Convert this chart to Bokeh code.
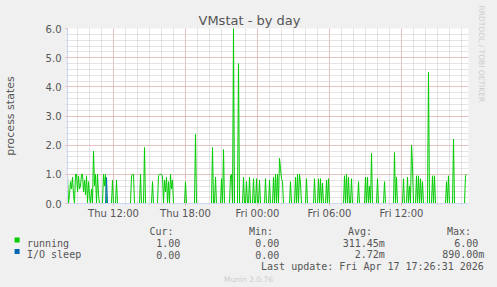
import math
import pandas as pd
from bokeh.plotting import figure
from bokeh.layouts import column
from bokeh.models import (FixedTicker, DatetimeTickFormatter, Range1d, Title,
                          NumeralTickFormatter, ColumnDataSource)
from bokeh.core.properties import value
from bokeh.embed import file_html
from bokeh.resources import INLINE

# ---------------- data ----------------
DAYS = {"Thu": "2026-04-16", "Fri": "2026-04-17"}

series_start = "Thu 08:10"
series_end = "Fri 17:25"
view_end = "Fri 17:35"

running_times = [
    "Thu 08:10", "Thu 08:20", "Thu 08:25", "Thu 08:30", "Thu 08:35", "Thu 08:40",
    "Thu 08:50", "Thu 08:55", "Thu 09:00", "Thu 09:05", "Thu 09:10", "Thu 09:15",
    "Thu 09:20", "Thu 09:25", "Thu 09:30", "Thu 09:35", "Thu 09:40", "Thu 09:45",
    "Thu 09:55", "Thu 10:00", "Thu 10:10", "Thu 10:20", "Thu 10:25", "Thu 10:30",
    "Thu 10:40", "Thu 10:45", "Thu 11:10", "Thu 11:15", "Thu 11:20", "Thu 11:55",
    "Thu 12:15", "Thu 13:30", "Thu 13:35", "Thu 13:40", "Thu 14:15", "Thu 14:35",
    "Thu 15:15", "Thu 15:45", "Thu 15:50", "Thu 15:55", "Thu 16:00", "Thu 16:05",
    "Thu 16:15", "Thu 16:20", "Thu 16:25", "Thu 16:35", "Thu 16:45", "Thu 16:50",
    "Thu 16:55", "Thu 18:00", "Thu 18:50", "Thu 20:15", "Thu 20:30", "Thu 21:00",
    "Thu 21:10", "Thu 21:45", "Thu 21:50", "Thu 22:00", "Thu 22:25", "Thu 22:50",
    "Thu 23:05", "Thu 23:20", "Thu 23:40", "Thu 23:55", "Fri 00:10", "Fri 00:40",
    "Fri 01:00", "Fri 01:20", "Fri 01:30", "Fri 01:40", "Fri 01:50", "Fri 01:55",
    "Fri 02:00", "Fri 02:05", "Fri 02:45", "Fri 03:10", "Fri 03:20", "Fri 03:30",
    "Fri 03:35", "Fri 04:05", "Fri 04:45", "Fri 05:05", "Fri 05:15", "Fri 05:25",
    "Fri 05:45", "Fri 05:55", "Fri 07:15", "Fri 07:25", "Fri 07:35", "Fri 07:50",
    "Fri 08:25", "Fri 09:00", "Fri 09:10", "Fri 09:20", "Fri 09:30", "Fri 10:00",
    "Fri 10:35", "Fri 11:25", "Fri 11:35", "Fri 12:10", "Fri 12:30", "Fri 12:40",
    "Fri 12:50", "Fri 12:55", "Fri 13:15", "Fri 13:25", "Fri 13:35", "Fri 13:45",
    "Fri 14:15", "Fri 14:35", "Fri 14:45", "Fri 15:45", "Fri 15:55", "Fri 16:20",
    "Fri 17:20", "Fri 17:25",
]
running_values = [
    1.0, 0.3, 0.75, 0.5, 0.9, 0.3,
    1.0, 1.0, 0.4, 0.95, 0.5, 0.6,
    1.0, 1.0, 0.4, 0.8, 0.3, 0.95,
    0.75, 0.3, 0.5, 1.8, 0.6, 1.0,
    1.0, 0.3, 1.0, 0.6, 1.0, 0.8,
    0.8, 0.95, 1.0, 1.0, 1.0, 1.92,
    0.75, 0.95, 1.0, 1.0, 1.0, 0.95,
    0.8, 0.4, 0.9, 0.75, 1.0, 0.5,
    0.8, 0.75, 2.38, 1.92, 0.9, 0.85,
    1.85, 0.95, 1.0, 6.0, 4.8, 0.9,
    0.75, 0.9, 0.85, 0.85, 0.8, 0.85,
    0.8, 0.9, 1.0, 1.0, 1.55, 1.2,
    0.85, 0.75, 0.75, 0.9, 1.0, 1.0,
    0.7, 0.85, 0.85, 0.85, 0.85, 0.7,
    0.8, 0.85, 0.95, 1.0, 0.9, 0.85,
    0.75, 0.9, 0.9, 0.6, 1.72, 0.85,
    0.75, 1.75, 0.9, 0.85, 0.9, 0.6,
    2.0, 1.3, 0.95, 0.95, 0.85, 0.75,
    4.5, 0.95, 0.95, 0.75, 0.95, 2.2,
    0.95, 1.0,
]
io_sleep_times = ["Thu 11:25"]
io_sleep_values = [0.89]

y_ticks = [0, 1, 2, 3, 4, 5, 6]
x_tick_times = ["Thu 12:00", "Thu 18:00", "Fri 00:00", "Fri 06:00", "Fri 12:00"]

legend_names = ["running", "I/O sleep"]
legend_colors = ["#00cc00", "#0066b3"]
legend_headers = ["Cur:", "Min:", "Avg:", "Max:"]
legend_cur = ["1.00", "0.00"]
legend_min = ["0.00", "0.00"]
legend_avg = ["311.45m", "2.72m"]
legend_max = ["6.00", "890.00m"]
last_update = "Last update: Fri Apr 17 17:26:31 2026"
footer = "Munin 2.0.76"
watermark = "RRDTOOL / TOBI OETIKER"
title_text = "VMstat - by day"


def ts(s):
    d, hm = s.split()
    return pd.Timestamp(f"{DAYS[d]} {hm}")


grid = pd.date_range(ts(series_start), ts(series_end), freq="5min")
run = pd.Series(0.0, index=grid)
for t, v in zip(running_times, running_values):
    run[ts(t)] = v
blk = pd.Series(0.0, index=grid)
for t, v in zip(io_sleep_times, io_sleep_values):
    blk[ts(t)] = v

src = ColumnDataSource(dict(t=grid, running=run.values, blocked=blk.values))

# ---------------- styling constants ----------------
W = 497
TOP_H = 223
LEG_H = 287 - TOP_H
FONT = "DejaVu Sans"
MONO = "DejaVu Sans Mono"
TXT = "#555555"
BG = "#f0f0f0"

# ---------------- main chart ----------------
p = figure(width=W, height=TOP_H, output_backend="svg", toolbar_location=None,
           x_axis_type="datetime",
           x_range=Range1d(ts(series_start), ts(view_end)),
           y_range=Range1d(0, 6),
           min_border_left=67, min_border_right=29,
           min_border_top=28, min_border_bottom=TOP_H - 203)
p.frame_align = False
p.background_fill_color = "#ffffff"
p.border_fill_color = BG
p.outline_line_color = None

p.title.text = title_text
p.title.align = "left"
p.title.offset = 131
p.title.standoff = 1
p.title.text_font = FONT
p.title.text_font_size = "13px"
p.title.text_font_style = "normal"
p.title.text_color = TXT

p.add_layout(Title(text=watermark, align="left", offset=-23, standoff=17,
                   text_font=FONT, text_font_size="7.5px", text_font_style="normal",
                   text_color="#cccccc"), "right")

p.line("t", "running", source=src, line_color="#00cc00", line_width=1)
p.line("t", "blocked", source=src, line_color="#0066b3", line_width=1)

to_ms = lambda s: ts(s).value / 1e6
minor_x = [t.value / 1e6 for t in pd.date_range(ts("Thu 09:00"), ts("Fri 17:00"), freq="1h")]
p.xaxis.ticker = FixedTicker(ticks=[to_ms(s) for s in x_tick_times], minor_ticks=minor_x)
fmt = "%a %H:%M"
p.xaxis.formatter = DatetimeTickFormatter(hours=fmt, hourmin=fmt, days=fmt, minutes=fmt,
                                          minsec=fmt, months=fmt, years=fmt)
p.yaxis.ticker = FixedTicker(ticks=y_ticks, minor_ticks=[i / 5 for i in range(31)])
p.yaxis.formatter = NumeralTickFormatter(format="0.0")

for ax in (p.xaxis[0], p.yaxis[0]):
    ax.axis_line_color = "#cfd6f8"
    ax.major_tick_line_color = "#f0a0a0"
    ax.major_tick_out = 2
    ax.major_tick_in = 0
    ax.minor_tick_line_color = "#cccccc"
    ax.minor_tick_out = 1
    ax.minor_tick_in = 0
    ax.major_label_text_font = FONT
    ax.major_label_text_font_size = "10px"
    ax.major_label_text_color = TXT
p.xaxis.major_label_standoff = 2
p.yaxis.major_label_standoff = 4
p.yaxis.axis_label = "process states"
p.yaxis.axis_label_text_font = FONT
p.yaxis.axis_label_text_font_size = "11px"
p.yaxis.axis_label_text_font_style = "normal"
p.yaxis.axis_label_text_color = TXT
p.yaxis.axis_label_standoff = 26

for g in (p.xgrid[0], p.ygrid[0]):
    g.grid_line_color = "#eaa0a0"
    g.grid_line_dash = "1 1"
    g.minor_grid_line_color = "#c8c8c8"
    g.minor_grid_line_dash = "1 1"

# ---------------- legend strip (canvas pixel coordinates) ----------------
lg = figure(width=W, height=LEG_H, output_backend="svg", toolbar_location=None,
            x_range=Range1d(0, W), y_range=Range1d(287, TOP_H),
            min_border=0, x_axis_location=None, y_axis_location=None)
lg.frame_align = False
lg.background_fill_color = BG
lg.border_fill_color = BG
lg.outline_line_color = None
lg.xgrid.visible = False
lg.ygrid.visible = False

mono = dict(text_font=value(MONO), text_font_size="10px", text_color=TXT,
            text_baseline="alphabetic")

lg.text(x=[149, 248.5, 347.5, 446.5], y=[231.3] * 4, text=legend_headers,
        text_align="left", **mono)
row_base = [242.8, 254.3]
lg.rect(x=[16.6, 16.6], y=[239.5, 251.0], width=5, height=5,
        fill_color=legend_colors, line_color=None)
lg.text(x=[26.5, 26.5], y=row_base, text=legend_names, text_align="left", **mono)
lg.text(x=[179.8, 179.8], y=row_base, text=legend_cur, text_align="right", **mono)
lg.text(x=[278.8, 278.8], y=row_base, text=legend_min, text_align="right", **mono)
lg.text(x=[384.3, 384.3], y=row_base, text=legend_avg, text_align="right", **mono)
lg.text(x=[477.8, 483.8], y=row_base, text=legend_max, text_align="right", **mono)
lg.text(x=[483.3], y=[265.8], text=[last_update], text_align="right", **mono)
lg.text(x=[248], y=[279.3], text=[footer], text_align="center",
        text_font=value(FONT), text_font_size="7.5px", text_color="#cccccc",
        text_baseline="alphabetic")

layout = column(p, lg, spacing=0)
layout.styles = {"background-color": BG}
open("out.html", "w").write(file_html(layout, INLINE))
